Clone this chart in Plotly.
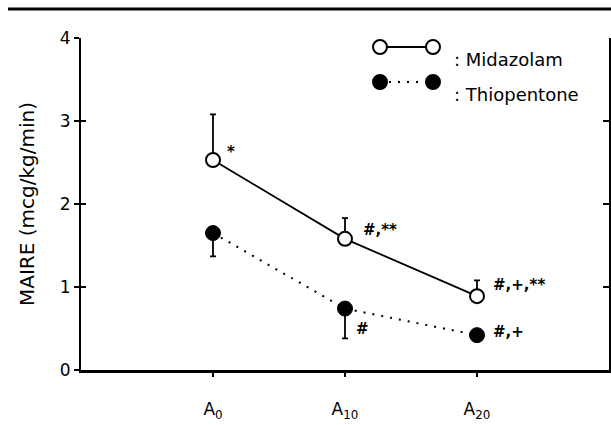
import plotly.graph_objects as go

categories = ["A<sub>0</sub>", "A<sub>10</sub>", "A<sub>20</sub>"]
x_pos = [0, 1, 2]
midazolam = [2.53, 1.58, 0.89]
midazolam_err = [0.55, 0.25, 0.19]
thiopentone = [1.65, 0.74, 0.42]
thiopentone_err = [0.28, 0.36, 0.0]
mid_labels = ["*", "#,**", "#,+,**"]
thio_labels = ["", "#", "#,+"]
y_ticks = [0, 1, 2, 3, 4]

FONT = "DejaVu Sans"
fig = go.Figure()

fig.add_trace(go.Scatter(
    x=x_pos, y=thiopentone, mode="lines+markers", name="Thiopentone",
    line=dict(color="black", width=2, dash="2px,7px"),
    marker=dict(symbol="circle", size=15, color="black", line=dict(color="black", width=1)),
    error_y=dict(type="data", symmetric=False, array=[0, 0, 0], arrayminus=thiopentone_err,
                 color="black", thickness=1.8, width=3),
    showlegend=False,
))
fig.add_trace(go.Scatter(
    x=x_pos, y=midazolam, mode="lines+markers", name="Midazolam",
    line=dict(color="black", width=1.8),
    marker=dict(symbol="circle", size=14, color="white", line=dict(color="black", width=2)),
    error_y=dict(type="data", symmetric=False, array=midazolam_err, arrayminus=[0, 0, 0],
                 color="black", thickness=1.8, width=3),
    showlegend=False,
))

# significance labels (offsets relative to their data point)
mid_shift = [(12, 8), (16, 9), (14, 11)]
thio_shift = [(0, 0), (9, -20), (14, 3)]
for xi, yi, t, (xs, ys) in zip(x_pos, midazolam, mid_labels, mid_shift):
    fig.add_annotation(x=xi, y=yi, text="<b>" + t + "</b>", showarrow=False, xanchor="left",
                       xshift=xs, yshift=ys, font=dict(family=FONT, size=15, color="black"))
for xi, yi, t, (xs, ys) in zip(x_pos, thiopentone, thio_labels, thio_shift):
    if not t:
        continue
    fig.add_annotation(x=xi, y=yi, text="<b>" + t + "</b>", showarrow=False, xanchor="left",
                       xshift=xs, yshift=ys, font=dict(family=FONT, size=15, color="black"))

# legend drawn manually in paper coords
PW, PH = 528, 332


def px2paper_x(px):
    return (px - 81) / PW


def px2paper_y(py):
    return (370 - py) / PH


def circ(xc, yc, filled):
    r = 7
    fig.add_shape(type="circle", xref="paper", yref="paper",
                  x0=xc - r / PW, x1=xc + r / PW, y0=yc - r / PH, y1=yc + r / PH,
                  line=dict(color="black", width=2), fillcolor="black" if filled else "white")


ly1, ly2 = px2paper_y(47), px2paper_y(82)
xa, xb = px2paper_x(380), px2paper_x(433)
fig.add_shape(type="line", xref="paper", yref="paper", x0=xa, x1=xb, y0=ly1, y1=ly1,
              line=dict(color="black", width=1.8))
fig.add_shape(type="line", xref="paper", yref="paper", x0=xa, x1=xb, y0=ly2, y1=ly2,
              line=dict(color="black", width=2, dash="2px,7px"))
circ(xa, ly1, False); circ(xb, ly1, False)
circ(xa, ly2, True); circ(xb, ly2, True)
fig.add_annotation(xref="paper", yref="paper", x=px2paper_x(452), y=ly1, text=": Midazolam",
                   showarrow=False, xanchor="left", font=dict(family=FONT, size=18, color="black"))
fig.add_annotation(xref="paper", yref="paper", x=px2paper_x(452), y=ly2, text=": Thiopentone",
                   showarrow=False, xanchor="left", font=dict(family=FONT, size=18, color="black"))

# top rule
fig.add_shape(type="line", xref="paper", yref="paper",
              x0=px2paper_x(8), x1=px2paper_x(611), y0=px2paper_y(9), y1=px2paper_y(9),
              line=dict(color="black", width=3))

fig.update_layout(
    width=611, height=425,
    margin=dict(l=81, r=2, t=38, b=55),
    paper_bgcolor="white", plot_bgcolor="white",
    font=dict(family=FONT, size=17, color="black"),
    xaxis=dict(range=[-1, 3], tickvals=x_pos, ticktext=categories, showline=True,
               linecolor="black", linewidth=2.5, ticks="outside", ticklen=4, tickwidth=1.5,
               tickcolor="black", showgrid=False, zeroline=False, ticklabelstandoff=18,
               tickfont=dict(family=FONT, size=17)),
    yaxis=dict(range=[0, 4], tickvals=y_ticks, showline=True, linecolor="black", linewidth=2,
               ticks="outside", ticklen=5, tickwidth=1.5, tickcolor="black", showgrid=False,
               zeroline=False, title=dict(text="MAIRE (mcg/kg/min)", standoff=20,
                                          font=dict(family=FONT, size=20)),
               tickfont=dict(family=FONT, size=17)),
    yaxis2=dict(range=[0, 4], tickvals=y_ticks, overlaying="y", side="left", anchor="x",
                showline=False, ticks="inside", ticklen=5, tickwidth=1.5, tickcolor="black",
                showticklabels=False, showgrid=False, zeroline=False),
    yaxis3=dict(range=[0, 4], tickvals=y_ticks, overlaying="y", side="right", anchor="x",
                showline=True, linecolor="black", linewidth=2, ticks="inside", ticklen=6,
                tickwidth=1.5, tickcolor="black", showticklabels=False, showgrid=False,
                zeroline=False),
)
# invisible traces to activate the overlay axes
fig.add_trace(go.Scatter(x=[None], y=[None], yaxis="y2", showlegend=False, hoverinfo="skip"))
fig.add_trace(go.Scatter(x=[None], y=[None], yaxis="y3", showlegend=False, hoverinfo="skip"))

fig.write_html("out.html", config={"displayModeBar": False},
               post_script="document.body.style.margin='0';document.body.style.overflow='hidden';")
